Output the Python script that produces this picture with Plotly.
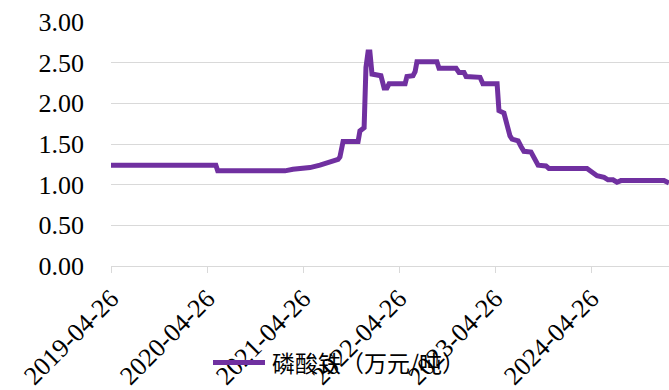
import plotly.graph_objects as go

# Weekly 磷酸铁 price, 万元/吨 (points where the price changes)
dates = [
    "2019-04-26", "2020-05-29", "2020-06-05", "2021-02-16", "2021-03-18",
    "2021-05-22", "2021-06-29", "2021-08-06", "2021-09-06", "2021-09-13",
    "2021-09-21", "2021-09-25", "2021-11-21", "2021-11-28", "2021-12-14",
    "2021-12-21", "2021-12-29", "2022-01-05", "2022-01-13", "2022-02-16",
    "2022-02-28", "2022-03-11", "2022-03-19", "2022-05-19", "2022-05-26",
    "2022-06-18", "2022-06-26", "2022-07-03", "2022-09-17", "2022-09-25",
    "2022-11-29", "2022-12-10", "2022-12-29", "2023-01-06", "2023-02-28",
    "2023-03-11", "2023-05-04", "2023-05-11", "2023-05-30", "2023-06-11",
    "2023-06-22", "2023-06-30", "2023-07-23", "2023-08-03", "2023-08-14",
    "2023-09-10", "2023-09-21", "2023-10-07", "2023-11-06", "2023-11-17",
    "2024-04-10", "2024-04-29", "2024-05-18", "2024-06-14", "2024-06-29",
    "2024-07-18", "2024-08-02", "2024-08-17", "2024-10-29", "2024-11-09",
    "2025-01-13", "2025-01-28", "2025-02-16",
]
prices = [
    1.24, 1.24, 1.17, 1.17, 1.19,
    1.21, 1.24, 1.28, 1.31, 1.34,
    1.50, 1.53, 1.53, 1.66, 1.70,
    2.44, 2.63, 2.63, 2.36, 2.34,
    2.19, 2.19, 2.24, 2.24, 2.33,
    2.34, 2.39, 2.51, 2.51, 2.43,
    2.43, 2.38, 2.38, 2.33, 2.32,
    2.24, 2.24, 1.91, 1.88, 1.72,
    1.60, 1.56, 1.54, 1.47, 1.41,
    1.40, 1.33, 1.24, 1.23, 1.20,
    1.20, 1.16, 1.11, 1.09, 1.06,
    1.06, 1.03, 1.05, 1.05, 1.06,
    1.06, 1.05, 1.02,
]

tick_dates = ["2019-04-26", "2020-04-26", "2021-04-26", "2022-04-26", "2023-04-26", "2024-04-26"]
y_ticks = [0, 0.5, 1.0, 1.5, 2.0, 2.5, 3.0]
series_name = "磷酸铁（万元/吨）"

PURPLE = "#7030A0"
GRID = "#D9D9D9"
LATIN = "Liberation Serif, Times New Roman, serif"
CJK = "Noto Sans CJK SC, sans-serif"

fig = go.Figure()
fig.add_trace(go.Scatter(
    x=dates, y=prices, mode="lines", name=series_name,
    line=dict(color=PURPLE, width=5), showlegend=False,
))

# legend drawn below the axis: a line sample followed by the series name
fig.add_shape(type="line", xref="paper", yref="paper",
              x0=(213 - 111) / 558, x1=(265 - 111) / 558,
              y0=-0.395, y1=-0.395,
              line=dict(color=PURPLE, width=5))
fig.add_annotation(xref="paper", yref="paper",
                   x=(270 - 111) / 558, y=-0.395,
                   xanchor="left", yanchor="middle", showarrow=False,
                   text=series_name,
                   font=dict(family=CJK, size=23, color="#000000"))

fig.update_layout(
    width=669, height=390,
    margin=dict(l=111, r=0, t=22, b=121),
    paper_bgcolor="white", plot_bgcolor="white",
    showlegend=False,
    font=dict(family=LATIN, size=26, color="#000000"),
)
fig.update_xaxes(
    type="date",
    range=["2019-04-26", "2025-02-16"],
    tickvals=tick_dates, ticktext=tick_dates,
    tickangle=-45,
    ticks="outside", ticklen=6, tickcolor=GRID, tickwidth=1,
    showline=True, linecolor=GRID, linewidth=1,
    showgrid=False, zeroline=False,
    tickfont=dict(family=LATIN, size=26, color="#000000"),
)
fig.update_yaxes(
    range=[0, 3],
    tickvals=y_ticks, tickformat=".2f",
    showgrid=True, gridcolor=GRID, gridwidth=1,
    zeroline=False, showline=False, ticks="",
    ticklabelstandoff=26,
    tickfont=dict(family=LATIN, size=26, color="#000000"),
)

fig.write_html("out.html")
